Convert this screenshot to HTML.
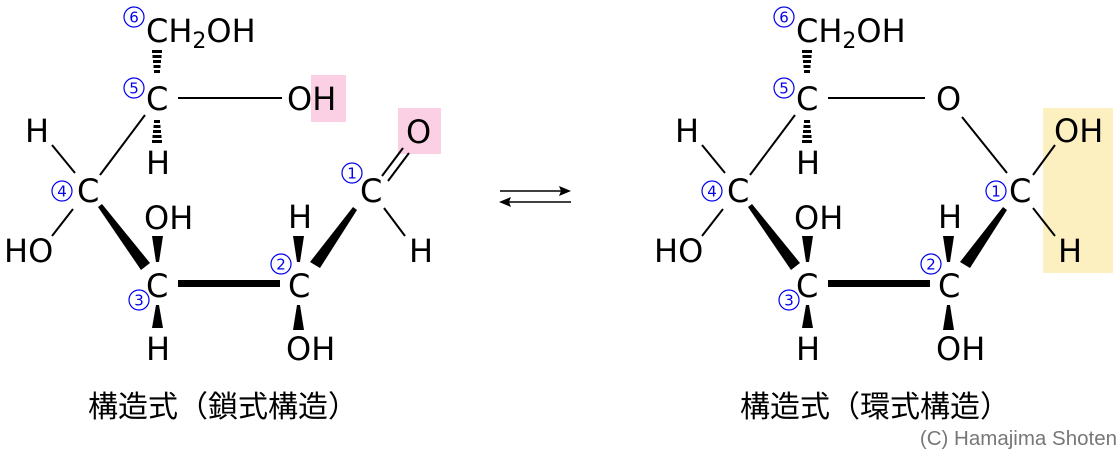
<!DOCTYPE html>
<html><head><meta charset="utf-8"><style>
html,body{margin:0;padding:0;background:#fff;width:1120px;height:459px;overflow:hidden}
svg{display:block}
.t{font-family:"DejaVu Sans","Liberation Sans",sans-serif;font-size:32px;fill:#000}
.n{font-family:"DejaVu Sans","Liberation Sans",sans-serif;font-size:15px;fill:#0000ee}
.c{fill:none;stroke:#0000ee;stroke-width:1.2}
.cap{font-family:"Liberation Sans","Noto Sans CJK JP",sans-serif;font-size:30px;fill:#000}
</style></head><body>
<svg width="1120" height="459" viewBox="0 0 1120 459" xmlns="http://www.w3.org/2000/svg">
<defs>
<g id="hashU">
<rect x="-5" y="50" width="10" height="3"/><rect x="-4.5" y="55" width="9" height="3"/><rect x="-4" y="60" width="8" height="3"/><rect x="-3.5" y="65" width="7" height="3"/><rect x="-3" y="70" width="6" height="3"/>
</g>
<g id="hashD">
<rect x="-3" y="120" width="6" height="3"/><rect x="-3.5" y="125" width="7" height="3"/><rect x="-4" y="130" width="8" height="3"/><rect x="-4.5" y="135" width="9" height="3"/><rect x="-5" y="140" width="10" height="3"/>
</g>
<g id="common" stroke="#000">
<circle class="c" cx="134" cy="17" r="10"/><text class="n" x="134" y="22.5" text-anchor="middle" stroke="none">6</text>
<text class="t" x="146" y="42" stroke="none">CH<tspan font-size="22" dy="6">2</tspan><tspan dy="-6">OH</tspan></text>
<g transform="translate(157,0)" stroke="none"><use href="#hashU"/><use href="#hashD"/></g>
<circle class="c" cx="134" cy="88" r="10"/><text class="n" x="134" y="93.5" text-anchor="middle" stroke="none">5</text>
<text class="t" x="146" y="110" stroke="none">C</text>
<text class="t" x="146" y="174" stroke="none">H</text>
<line x1="145" y1="115" x2="100" y2="175" stroke-width="2"/>
<text class="t" x="25" y="142" stroke="none">H</text>
<line x1="52" y1="145" x2="75" y2="173" stroke-width="2"/>
<circle class="c" cx="62" cy="191" r="10"/><text class="n" x="62" y="196.5" text-anchor="middle" stroke="none">4</text>
<text class="t" x="77" y="202" stroke="none">C</text>
<line x1="73" y1="209" x2="52" y2="236" stroke-width="2"/>
<text class="t" x="4" y="262" stroke="none">HO</text>
<polygon points="98,207 102,204 150,263 141,270" stroke="none"/>
<text class="t" x="144" y="229" stroke="none">OH</text>
<polygon points="152,236 163,236 159,262 156,262" stroke="none"/>
<text class="t" x="146" y="297" stroke="none">C</text>
<circle class="c" cx="139" cy="300" r="10"/><text class="n" x="139" y="305.5" text-anchor="middle" stroke="none">3</text>
<polygon points="156,305 159,305 163,328 152,328" stroke="none"/>
<text class="t" x="146" y="360" stroke="none">H</text>
<rect x="178" y="280" width="102" height="7" stroke="none"/>
<text class="t" x="288" y="228" stroke="none">H</text>
<polygon points="293,236 304,236 300,262 297,262" stroke="none"/>
<circle class="c" cx="281" cy="264" r="10"/><text class="n" x="281" y="269.5" text-anchor="middle" stroke="none">2</text>
<text class="t" x="288" y="297" stroke="none">C</text>
<polygon points="297,305 300,305 304,330 293,330" stroke="none"/>
<text class="t" x="286" y="360" stroke="none">OH</text>
<polygon points="310,262 320,268 357,210 353,207" stroke="none"/>
</g>
</defs>

<rect x="311" y="75" width="35" height="47" fill="#fcd0e4"/>
<rect x="398" y="108" width="43" height="46" fill="#fcd0e4"/>
<use href="#common"/>
<line x1="178" y1="98" x2="282" y2="98" stroke="#000" stroke-width="2"/>
<text class="t" x="287" y="110">OH</text>
<circle class="c" cx="352" cy="173" r="10"/><text class="n" x="352" y="178.5" text-anchor="middle">1</text>
<text class="t" x="360" y="202">C</text>
<line x1="382" y1="176" x2="403" y2="148" stroke="#000" stroke-width="2"/>
<line x1="388" y1="181" x2="409" y2="153" stroke="#000" stroke-width="2"/>
<text class="t" x="406" y="143">O</text>
<line x1="384" y1="208" x2="405" y2="236" stroke="#000" stroke-width="2"/>
<text class="t" x="409" y="262">H</text>
<text class="cap" x="88" y="417">構造式（鎖式構造）</text>

<line x1="500" y1="191" x2="565" y2="191" stroke="#000" stroke-width="1.6"/>
<polygon points="571,191 559,186 561,191 559,196"/>
<line x1="505" y1="202" x2="571" y2="202" stroke="#000" stroke-width="1.6"/>
<polygon points="499,202 511,197 509,202 511,207"/>

<rect x="1043" y="108" width="70" height="165" fill="#fdf0c0"/>
<g transform="translate(650,0)"><use href="#common"/></g>
<line x1="828" y1="98" x2="925" y2="98" stroke="#000" stroke-width="2"/>
<text class="t" x="936" y="110">O</text>
<line x1="962" y1="117" x2="1007" y2="173" stroke="#000" stroke-width="2"/>
<circle class="c" cx="996" cy="191" r="10"/><text class="n" x="996" y="196.5" text-anchor="middle">1</text>
<text class="t" x="1009" y="202">C</text>
<line x1="1033" y1="175" x2="1055" y2="145" stroke="#000" stroke-width="2"/>
<text class="t" x="1054" y="142">OH</text>
<line x1="1033" y1="208" x2="1055" y2="236" stroke="#000" stroke-width="2"/>
<text class="t" x="1058" y="262">H</text>
<text class="cap" x="740" y="417">構造式（環式構造）</text>

<text x="1117" y="445" text-anchor="end" font-family="Liberation Sans, sans-serif" font-size="20.5" fill="#777">(C) Hamajima Shoten</text>
</svg>
</body></html>
